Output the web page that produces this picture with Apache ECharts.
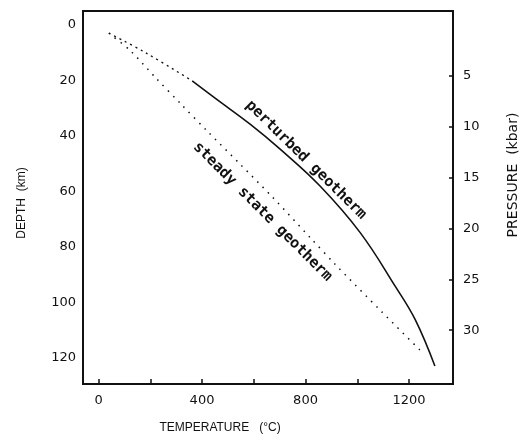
<!DOCTYPE html>
<html>
<head>
<meta charset="utf-8">
<script src="https://cdn.jsdelivr.net/npm/echarts@6.0.0/dist/echarts.min.js"></script>
<style>
  html, body { margin: 0; padding: 0; background: #fff; }
  #chart { width: 524px; height: 440px; }
</style>
</head>
<body>
<div id="chart"></div>
<script>
// geotherms, temperature (°C) against depth (km)
const perturbedTemp = [40, 181, 362, 457, 587, 703, 857, 1012, 1147, 1224, 1300];
const perturbedDepth = [3, 10, 20.2, 26.9, 35.9, 44.9, 58.2, 75, 94.3, 106.3, 123];
const steadyTemp = [40, 124, 220, 320, 420, 548, 671, 819, 915, 1095, 1247];
const steadyDepth = [3, 9.4, 19, 28.7, 38.3, 50.3, 62, 76.8, 86.4, 103.5, 117.7];

// axis ticks / labels
const tempTicks = [0, 200, 400, 600, 800, 1000, 1200];
const tempLabels = [0, 400, 800, 1200];
const depthLabels = [0, 20, 40, 60, 80, 100, 120];
const pressureTicks = [5, 10, 15, 20, 25, 30];
const kmPerKbar = 3.67;

// first part of the perturbed curve is printed dotted
const perturbedSplit = 2;

const zip = (xs, ys) => xs.map((x, i) => [x, ys[i]]);
const perturbed = zip(perturbedTemp, perturbedDepth);
const steady = zip(steadyTemp, steadyDepth);

const depthMin = -5;
const depthMax = 129.5;
const labelFont = 'DejaVu Sans';
const plain = v => String(v);

const chart = echarts.init(document.getElementById('chart'));

const option = {
  animation: false,
  backgroundColor: '#fff',
  grid: {
    left: 83,
    right: 71,
    top: 11,
    bottom: 56,
    show: true,
    borderColor: '#111',
    borderWidth: 2
  },
  xAxis: {
    type: 'value',
    min: -60,
    max: 1370,
    axisLine: { show: false, onZero: false },
    splitLine: { show: false },
    axisTick: {
      show: true,
      inside: true,
      length: 5,
      customValues: tempTicks,
      lineStyle: { color: '#111', width: 1.5 }
    },
    axisLabel: {
      customValues: tempLabels,
      formatter: plain,
      margin: 10,
      color: '#111',
      fontSize: 13,
      fontFamily: labelFont
    }
  },
  yAxis: [
    {
      type: 'value',
      inverse: true,
      min: depthMin,
      max: depthMax,
      axisLine: { show: false, onZero: false },
      splitLine: { show: false },
      axisTick: { show: false },
      axisLabel: {
        customValues: depthLabels,
        formatter: plain,
        margin: 7,
        color: '#111',
        fontSize: 13,
        fontFamily: labelFont
      }
    },
    {
      type: 'value',
      position: 'right',
      inverse: true,
      min: depthMin / kmPerKbar,
      max: depthMax / kmPerKbar,
      axisLine: { show: false, onZero: false },
      splitLine: { show: false },
      axisTick: {
        show: true,
        inside: true,
        length: 4,
        customValues: pressureTicks,
        lineStyle: { color: '#111', width: 1.5 }
      },
      axisLabel: {
        customValues: pressureTicks,
        formatter: plain,
        margin: 10,
        color: '#111',
        fontSize: 13,
        fontFamily: labelFont
      }
    }
  ],
  series: [
    {
      name: 'perturbed top',
      type: 'line',
      data: perturbed.slice(0, perturbedSplit + 1),
      smooth: 0.4,
      showSymbol: false,
      lineStyle: { color: '#111', width: 1.3, type: [2, 4] }
    },
    {
      name: 'perturbed geotherm',
      type: 'line',
      data: perturbed.slice(perturbedSplit),
      smooth: 0.4,
      showSymbol: false,
      lineStyle: { color: '#111', width: 1.6 }
    },
    {
      name: 'steady state geotherm',
      type: 'line',
      data: steady,
      smooth: 0.3,
      showSymbol: false,
      lineStyle: { color: '#111', width: 1.5, type: [1.5, 6] }
    }
  ]
};

chart.setOption(option);

// curve labels, placed in data coordinates along each line
const curveText = (text, at, angle) => {
  const p = chart.convertToPixel({ xAxisIndex: 0, yAxisIndex: 0 }, at);
  return {
    type: 'text',
    x: p[0],
    y: p[1],
    rotation: -angle * Math.PI / 180,
    style: {
      text: text,
      fill: '#111',
      font: 'bold 15px "DejaVu Sans Mono"',
      align: 'center',
      verticalAlign: 'middle'
    }
  };
};

chart.setOption({
  graphic: [
    curveText('perturbed geotherm', [802, 48.7], 44.5),
    curveText('steady state geotherm', [634, 67.4], 45),
    {
      type: 'text',
      x: 220,
      y: 428,
      style: {
        text: 'TEMPERATURE   (°C)',
        fill: '#111',
        font: '12px "Liberation Sans"',
        align: 'center',
        verticalAlign: 'middle'
      }
    },
    {
      type: 'text',
      x: 22,
      y: 203,
      rotation: Math.PI / 2,
      style: {
        text: 'DEPTH  (km)',
        fill: '#111',
        font: '12px "Liberation Sans"',
        align: 'center',
        verticalAlign: 'middle'
      }
    },
    {
      type: 'text',
      x: 513,
      y: 175,
      rotation: Math.PI / 2,
      style: {
        text: 'PRESSURE  (kbar)',
        fill: '#111',
        font: '14px "DejaVu Sans"',
        align: 'center',
        verticalAlign: 'middle'
      }
    }
  ]
});
</script>
</body>
</html>
